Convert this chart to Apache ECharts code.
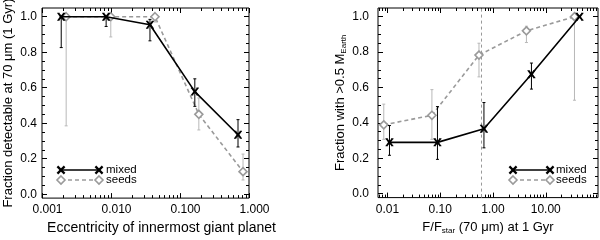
<!DOCTYPE html>
<html><head><meta charset="utf-8">
<script src="https://cdn.jsdelivr.net/npm/echarts@6/dist/echarts.min.js"></script>
<style>html,body{margin:0;padding:0;background:#fff}#c{width:600px;height:240px}</style>
</head><body><div id="c"></div>
<script>
// ---------- Left panel: fraction detectable vs eccentricity ----------
const eccMixed     = [0.0019, 0.0085, 0.0367, 0.164, 0.693];
const fracMixed    = [1.0, 1.0, 0.955, 0.578, 0.335];
const fracMixedLo  = [0.826, 0.945, 0.864, 0.495, 0.266];
const fracMixedHi  = [1.0, 1.0, 0.985, 0.650, 0.420];
const eccSeeds     = [0.00224, 0.00993, 0.0434, 0.1875, 0.819];
const fracSeeds    = [1.0, 1.0, 1.0, 0.450, 0.127];
const fracSeedsLo  = [0.385, 0.886, 0.97, 0.362, 0.080];
const fracSeedsHi  = [1.0, 1.0, 1.0, 0.542, 0.226];
// ---------- Right panel: fraction with >0.5 M_Earth vs F/Fstar ----------
const fluxMixed    = [0.0109, 0.0885, 0.673, 5.35, 43.6];
const earthMixed   = [0.29, 0.29, 0.367, 0.675, 1.0];
const earthMixedLo = [0.217, 0.194, 0.259, 0.591, 1.0];
const earthMixedHi = [0.385, 0.492, 0.515, 0.738, 1.0];
const fluxSeeds    = [0.0085, 0.0695, 0.542, 4.3, 35];
const earthSeeds   = [0.389, 0.443, 0.783, 0.92, 1.0];
const earthSeedsLo = [0.307, 0.307, 0.66, 0.854, 0.528];
const earthSeedsHi = [0.506, 0.588, 0.85, 0.946, 1.0];
const detectLimit  = 0.59;
// ---------- ticks ----------
const yTicks    = [0.0, 0.2, 0.4, 0.6, 0.8, 1.0];
const eccTicks  = [0.001, 0.01, 0.1, 1];
const fluxTicks = [0.01, 0.1, 1, 10];
const seriesNames = ['mixed', 'seeds'];

const L = Math.log10;
const FONT = 'Liberation Sans, Arial, Helvetica, sans-serif';
const eccRange = [L(0.001), L(1)];
const fluxRange = [-2.18, 1.99];
const yRange = [-0.022, 1.049];

function minorLogs(r) {
  const out = [];
  for (let n = -4; n <= 2; n++) for (let k = 2; k <= 9; k++) {
    const v = L(k * Math.pow(10, n));
    if (v > r[0] && v < r[1]) out.push(v);
  }
  return out;
}
const yMinor = [];
for (let i = 0; i <= 20; i++) { const v = i * 0.05; if (i % 4 !== 0) yMinor.push(+v.toFixed(2)); }

function axBase(grid, pos, range, vals, len) {
  return {
    gridIndex: grid, type: 'value', position: pos, min: range[0], max: range[1],
    axisLine: { show: false, onZero: false },
    splitLine: { show: false },
    axisTick: { show: true, inside: true, length: len, customValues: vals, lineStyle: { color: '#000', width: 1 } },
    axisLabel: { show: false }
  };
}

const xAxes = [];
const yAxes = [];
function buildAxes(g, xr, xTicksLog, fmt, xName, xNameStyle, xNamePadding, labelPad, yName, yNameGap, yLabelMargin, xNameSize) {
  const bx = axBase(g, 'bottom', xr, xTicksLog, 5);
  bx.axisLabel = { show: true, customValues: xTicksLog, formatter: fmt, margin: 6, fontSize: 12, color: '#000', fontFamily: FONT, padding: labelPad };
  bx.name = xName; bx.nameLocation = 'middle'; bx.nameGap = 18;
  bx.nameTextStyle = Object.assign({ fontSize: xNameSize, color: '#000', fontFamily: FONT, padding: xNamePadding }, xNameStyle);
  xAxes.push(bx);
  xAxes.push(axBase(g, 'bottom', xr, minorLogs(xr), 3));
  xAxes.push(axBase(g, 'top', xr, xTicksLog, 5));
  xAxes.push(axBase(g, 'top', xr, minorLogs(xr), 3));
  const ly = axBase(g, 'left', yRange, yTicks, 5);
  ly.axisLabel = { show: true, customValues: yTicks, formatter: v => v.toFixed(1), margin: yLabelMargin, fontSize: 12, color: '#000', fontFamily: FONT };
  ly.name = yName; ly.nameLocation = 'middle'; ly.nameGap = yNameGap;
  ly.nameTextStyle = { fontSize: 13, color: '#000', fontFamily: FONT,
    rich: { sub: { fontSize: 8, fontFamily: FONT, color: '#000', padding: [7, 0, 0, 0] } } };
  yAxes.push(ly);
  yAxes.push(axBase(g, 'left', yRange, yMinor, 3));
  yAxes.push(axBase(g, 'right', yRange, yTicks, 5));
  yAxes.push(axBase(g, 'right', yRange, yMinor, 3));
}
buildAxes(0, eccRange, eccTicks.map(L), v => Math.pow(10, v).toFixed(3),
  'Eccentricity of innermost giant planet', {}, [0, 0, 0, 32], [0, 0, 0, 11],
  'Fraction detectable at 70 \u03bcm (1 Gyr)', 27, 5, 14);
buildAxes(1, fluxRange, fluxTicks.map(L), v => Math.pow(10, v).toFixed(2),
  'F/F{sub|star} (70 \u03bcm) at 1 Gyr',
  { rich: { sub: { fontSize: 8, fontFamily: FONT, color: '#000', padding: [8, 0, 0, 0] } } }, 0, 0,
  'Fraction with >0.5 M{sub|Earth}', 30, 9, 13);

function errSeries(g, xs, lo, hi, color, z) {
  return {
    type: 'custom', xAxisIndex: g * 4, yAxisIndex: g * 4, z: z, silent: true,
    data: xs.map((x, i) => [L(x), lo[i], hi[i]]),
    encode: { x: 0, y: [1, 2] },
    renderItem: function (params, api) {
      const x = api.value(0);
      const p1 = api.coord([x, api.value(2)]);
      const p2 = api.coord([x, api.value(1)]);
      const st = { stroke: color, lineWidth: 1 };
      return { type: 'group', children: [
        { type: 'line', shape: { x1: p1[0], y1: p1[1], x2: p2[0], y2: p2[1] }, style: st },
        { type: 'line', shape: { x1: p1[0] - 1.5, y1: p1[1], x2: p1[0] + 1.5, y2: p1[1] }, style: st },
        { type: 'line', shape: { x1: p2[0] - 1.5, y1: p2[1], x2: p2[0] + 1.5, y2: p2[1] }, style: st }
      ] };
    }
  };
}
const XPATH = 'path://M0,0H3V1H0Z M7,0H10V1H7Z M0,9H3V10H0Z M7,9H10V10H7Z M0,0.6L2.2,0L5,3.2L7.8,0L10,0.6L6.8,5L10,9.4L7.8,10L5,6.8L2.2,10L0,9.4L3.2,5Z';
const SEED_COL = '#9a9a9a';
const SEED_ERR = '#b8b8b8';
function seedsLine(g, xs, ys, extra) {
  return Object.assign({
    type: 'line', name: seriesNames[1], xAxisIndex: g * 4, yAxisIndex: g * 4, z: 3,
    data: xs.map((x, i) => [L(x), ys[i]]),
    symbol: 'diamond', symbolSize: [8, 8], showSymbol: true,
    lineStyle: { color: SEED_COL, width: 1.6, type: [4, 3] },
    itemStyle: { color: '#fff', borderColor: SEED_COL, borderWidth: 1.6 }
  }, extra || {});
}
function mixedLine(g, xs, ys) {
  return {
    type: 'line', name: seriesNames[0], xAxisIndex: g * 4, yAxisIndex: g * 4, z: 5,
    data: xs.map((x, i) => [L(x), ys[i]]),
    symbol: XPATH, symbolSize: [8, 8], showSymbol: true,
    lineStyle: { color: '#000', width: 1.6 },
    itemStyle: { color: '#000', borderWidth: 0 }
  };
}

const series = [
  errSeries(0, eccSeeds, fracSeedsLo, fracSeedsHi, SEED_ERR, 1),
  seedsLine(0, eccSeeds, fracSeeds),
  errSeries(0, eccMixed, fracMixedLo, fracMixedHi, '#000', 4),
  mixedLine(0, eccMixed, fracMixed),
  errSeries(1, fluxSeeds, earthSeedsLo, earthSeedsHi, SEED_ERR, 1),
  seedsLine(1, fluxSeeds, earthSeeds, {
    markLine: { silent: true, symbol: 'none', label: { show: false },
      lineStyle: { color: '#999', width: 1, type: [3, 3] },
      data: [{ xAxis: L(detectLimit) }] }
  }),
  errSeries(1, fluxMixed, earthMixedLo, earthMixedHi, '#000', 4),
  mixedLine(1, fluxMixed, earthMixed)
];

// legend drawn with graphics
function xMarker(x, y) {
  const st = { stroke: '#000', lineWidth: 2.2 };
  return [
    { type: 'line', shape: { x1: x - 3.6, y1: y - 3.6, x2: x + 3.6, y2: y + 3.6 }, style: st, z: 11 },
    { type: 'line', shape: { x1: x + 3.6, y1: y - 3.6, x2: x - 3.6, y2: y + 3.6 }, style: st, z: 11 }
  ];
}
function legend(x0, x1, tx, y0) {
  let out = [];
  const ym = y0, ys = y0 + 10;
  out.push({ type: 'line', shape: { x1: x0, y1: ym, x2: x1, y2: ym }, style: { stroke: '#000', lineWidth: 1.6 }, z: 10 });
  out = out.concat(xMarker(x0, ym), xMarker(x1, ym));
  out.push({ type: 'line', shape: { x1: x0, y1: ys, x2: x1, y2: ys }, style: { stroke: SEED_COL, lineWidth: 1.6, lineDash: [4, 3] }, z: 10 });
  [x0, x1].forEach(x => out.push({ type: 'polygon', shape: { points: [[x, ys - 4], [x + 4, ys], [x, ys + 4], [x - 4, ys]] }, style: { fill: '#fff', stroke: SEED_COL, lineWidth: 1.6 }, z: 11 }));
  out.push({ type: 'text', x: tx, y: ym, style: { text: seriesNames[0], fontSize: 11.5, fontFamily: FONT, fill: '#000', verticalAlign: 'middle' }, z: 11 });
  out.push({ type: 'text', x: tx, y: ys, style: { text: seriesNames[1], fontSize: 11.5, fontFamily: FONT, fill: '#000', verticalAlign: 'middle' }, z: 11 });
  return out;
}

const chart = echarts.init(document.getElementById('c'), null, { renderer: 'canvas' });
chart.setOption({
  animation: false,
  backgroundColor: '#fff',
  grid: [
    { left: 42, top: 8, width: 207, height: 198, show: true, borderColor: '#000', borderWidth: 1, backgroundColor: 'transparent' },
    { left: 378, top: 8, width: 220, height: 198, show: true, borderColor: '#000', borderWidth: 1, backgroundColor: 'transparent' }
  ],
  xAxis: xAxes,
  yAxis: yAxes,
  series: series,
  graphic: legend(61, 99, 106, 170).concat(legend(513, 550, 556, 170))
});
</script></body></html>
